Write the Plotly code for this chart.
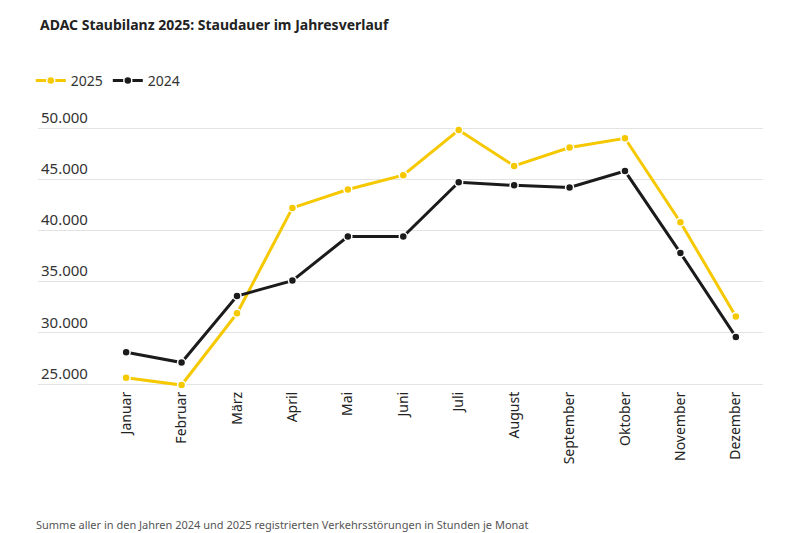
import plotly.graph_objects as go

months = ["Januar","Februar","März","April","Mai","Juni","Juli","August","September","Oktober","November","Dezember"]
v2025 = [25600, 24900, 31900, 42200, 44000, 45400, 49800, 46300, 48100, 49000, 40800, 31600]
v2024 = [28100, 27100, 33600, 35100, 39400, 39400, 44700, 44400, 44200, 45800, 37800, 29600]
yticks = [25000, 30000, 35000, 40000, 45000, 50000]
ylabels = ["25.000", "30.000", "35.000", "40.000", "45.000", "50.000"]

fig = go.Figure()
for name, vals, col in [("2025", v2025, "#f6c800"), ("2024", v2024, "#1b1b1b")]:
    fig.add_trace(go.Scatter(x=months, y=vals, name=name, mode="lines+markers",
                             line=dict(color=col, width=3),
                             marker=dict(size=8, color=col, line=dict(color="white", width=1.5))))

fig.update_layout(
    width=800, height=533, plot_bgcolor="white", paper_bgcolor="white",
    margin=dict(l=30, r=45, t=97, b=153, autoexpand=False),
    font=dict(family="Noto Sans", size=13, color="#333"),
    title=dict(text="<b>ADAC Staubilanz 2025: Staudauer im Jahresverlauf</b>", x=0.04, xanchor="left",
               y=0.968, yanchor="middle", font=dict(size=14, color="#222")),
    legend=dict(orientation="h", x=-0.01, xanchor="left", y=1.085, yanchor="middle",
                font=dict(size=14), traceorder="normal"),
    showlegend=True,
)
fig.update_xaxes(type="category", range=[-1.59, 11.49], tickangle=-90, showgrid=False,
                 showline=False, ticks="", tickfont=dict(size=14, color="#222"))
fig.update_yaxes(range=[24610, 52250], tickvals=yticks, ticktext=ylabels,
                 ticklabelposition="inside top", showgrid=True, gridcolor="#e3e3e3",
                 zeroline=False, tickfont=dict(size=15, color="#333"))
fig.add_annotation(text="Summe aller in den Jahren 2024 und 2025 registrierten Verkehrsstörungen in Stunden je Monat",
                   xref="paper", yref="paper", x=-0.005, y=-0.484, xanchor="left", yanchor="middle",
                   showarrow=False, font=dict(size=11, color="#555"))
fig.write_html("out.html")
